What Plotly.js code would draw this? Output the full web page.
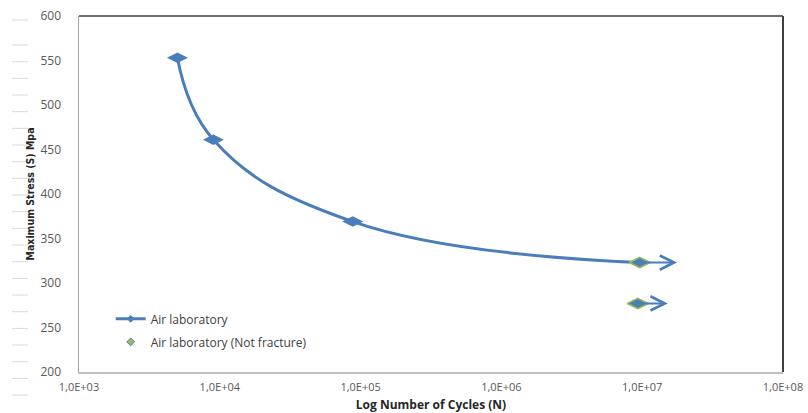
<!DOCTYPE html>
<html>
<head>
<meta charset="utf-8">
<script src="https://cdn.plot.ly/plotly-3.0.1.min.js"></script>
<style>html,body{margin:0;padding:0;background:#fff;}#chart{width:808px;height:413px;}</style>
</head>
<body>
<div id="chart"></div>
<script>
// Data
const cyclesFracture = [5000, 9000, 88000, 9.6e6];
const stressFracture = [553, 461, 369, 323];
const cyclesRunout = [9.6e6, 9.3e6];
const stressRunout = [323, 277];
const runoutArrowEnd = [1.77e7, 1.52e7];
const xTickVals = [1e3, 1e4, 1e5, 1e6, 1e7, 1e8];
const xTickText = ['1,0E+03', '1,0E+04', '1,0E+05', '1,0E+06', '1,0E+07', '1,0E+08'];
const yTickVals = [200, 250, 300, 350, 400, 450, 500, 550, 600];

const blue = '#4a7ebb';
const green = '#9bbb59';

const traces = [
  {
    x: cyclesFracture, y: stressFracture, type: 'scatter', mode: 'lines+markers',
    line: {color: blue, width: 3, shape: 'spline', smoothing: 1.2},
    marker: {symbol: 'diamond-wide', size: 15, color: blue},
    showlegend: false
  },
  {
    x: cyclesRunout, y: stressRunout, type: 'scatter', mode: 'markers',
    marker: {symbol: 'diamond-wide', size: 15, color: blue, line: {color: green, width: 1.5}},
    showlegend: false
  },
  // legend entries
  {
    x: [null], y: [null], type: 'scatter', mode: 'lines+markers', name: 'Air laboratory',
    legendgroup: 'a', line: {color: blue, width: 3}, marker: {symbol: 'diamond', size: 6, color: blue}
  },
  {
    x: [null], y: [null], type: 'scatter', mode: 'markers', name: 'Air laboratory (Not fracture)',
    legendgroup: 'b', marker: {symbol: 'diamond', size: 6, color: green, line: {color: blue, width: 1}}
  }
];

const annotations = cyclesRunout.map((n, i) => ({
  x: Math.log10(runoutArrowEnd[i]), y: stressRunout[i],
  ax: Math.log10(n), ay: stressRunout[i],
  xref: 'x', yref: 'y', axref: 'x', ayref: 'y',
  text: '', showarrow: true, arrowhead: 5, arrowsize: 1.4, arrowwidth: 2,
  arrowcolor: blue, standoff: 0, startstandoff: 0
}));

// decorative faint tick marks left of the chart (as in the reference picture)
const W = 704, H = 356, L = 79, T = 16;
const shapes = [];
const decoY = [20];
for (let k = 0; k <= 21; k++) decoY.push(45 + k * 16.67);
decoY.forEach(py => shapes.push({
  type: 'line', xref: 'paper', yref: 'paper',
  x0: (12 - L) / W, x1: (28 - L) / W,
  y0: (T + H - py) / H, y1: (T + H - py) / H,
  line: {color: '#d9d9d9', width: 1}
}));
// top and right frame edges
shapes.push({type: 'line', xref: 'paper', yref: 'paper', x0: 0, x1: 1, y0: 1, y1: 1, line: {color: '#404040', width: 1.5}});
shapes.push({type: 'line', xref: 'paper', yref: 'paper', x0: 1, x1: 1, y0: 0, y1: 1, line: {color: '#404040', width: 2}});

const layout = {
  width: 808, height: 413,
  margin: {l: L, r: 25, t: T, b: 41},
  paper_bgcolor: '#ffffff', plot_bgcolor: '#ffffff',
  font: {family: 'Open Sans, Liberation Sans, sans-serif', size: 11, color: '#595959'},
  xaxis: {
    type: 'log', range: [3, 8], tickvals: xTickVals, ticktext: xTickText,
    showgrid: false, zeroline: false, showline: true, linecolor: '#bfbfbf', linewidth: 1.5,
    ticks: '', ticklabelstandoff: 4,
    tickfont: {family: 'Open Sans, Liberation Sans, sans-serif', size: 11, color: '#595959'},
    title: {text: 'Log Number of Cycles (N)', standoff: 8,
      font: {family: 'Open Sans, Liberation Sans, sans-serif', size: 12, color: '#262626', weight: 'bold'}}
  },
  yaxis: {
    range: [200, 600], tickvals: yTickVals,
    showgrid: false, zeroline: false, showline: true, linecolor: '#a6a6a6', linewidth: 1.5,
    ticks: '', ticklabelstandoff: 14,
    tickfont: {family: 'Open Sans, Liberation Sans, sans-serif', size: 12, color: '#595959'},
    title: {text: 'Maximum Stress (S) Mpa', standoff: 4,
      font: {family: 'DejaVu Sans Condensed, sans-serif', size: 10.5, color: '#262626', weight: 'bold'}}
  },
  legend: {
    x: 0.045, y: 0.19, xanchor: 'left', yanchor: 'top',
    bgcolor: 'rgba(0,0,0,0)', traceorder: 'grouped', tracegroupgap: 4,
    font: {family: 'Open Sans, Liberation Sans, sans-serif', size: 12, color: '#404040'}
  },
  annotations: annotations,
  shapes: shapes,
  showlegend: true
};

Plotly.newPlot('chart', traces, layout, {displayModeBar: false, staticPlot: true});
</script>
</body>
</html>
